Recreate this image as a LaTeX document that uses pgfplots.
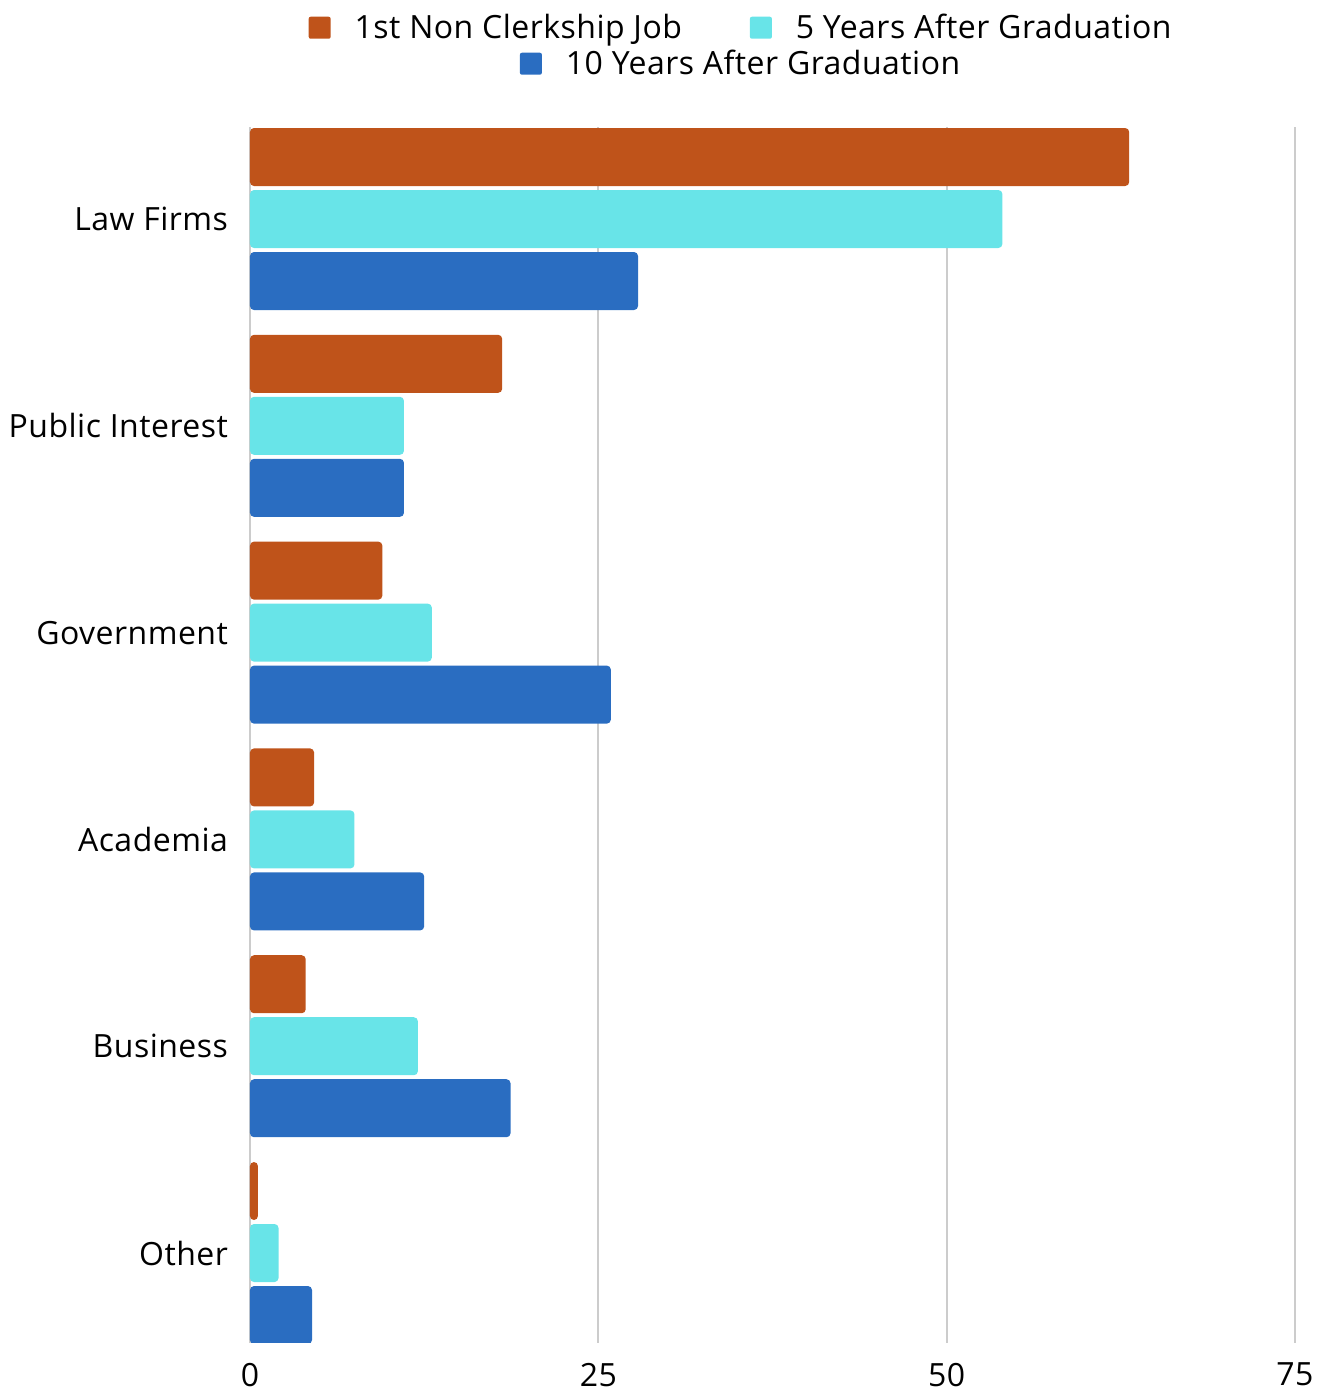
\documentclass[border=0pt]{standalone}
\usepackage{pgfplots}
\pgfplotsset{compat=1.18}
\usepackage{fontspec}
\setmainfont{Open Sans}[LetterSpace=1.5]
\definecolor{cOrange}{RGB}{191,83,26}
\definecolor{cCyan}{RGB}{104,228,232}
\definecolor{cBlue}{RGB}{42,109,193}
\definecolor{cGrid}{RGB}{204,204,204}
\newcommand{\lfont}{\fontsize{16}{19}\selectfont}
\pgfplotsset{
  sqlegend/.style={legend image code/.code={
      \fill[##1, draw=none, rounded corners=1pt] (0pt,0pt) rectangle (11pt,11pt);
      \path[draw=none, fill=none] (0pt,0pt) rectangle (23pt,11pt);
  }},
}
\begin{document}
\begin{tikzpicture}
\path[use as bounding box] (-125pt,-25pt) rectangle (536pt,671.5pt);
\begin{axis}[
  at={(0,0)}, anchor=south west,
  scale only axis, width=522.5pt, height=608pt,
  xmin=0, xmax=75, ymin=-0.435, ymax=5.445,
  xtick={0,25,50,75}, ytick={0,1,2,3,4,5},
  yticklabels={Other,Business,Academia,Government,Public Interest,Law Firms},
  major tick length=0pt,
  xmajorgrids, grid style={cGrid, line width=1pt},
  axis line style={draw=none},
  /pgf/number format/assume math mode=true,
  tick label style={font=\lfont, text=black},
  xticklabel style={yshift=-6.5pt},
  yticklabel style={xshift=-7.5pt},
  xbar, bar width=29pt,
  sqlegend,
  legend columns=2,
  legend style={draw=none, fill=none, font=\lfont, at={(0.469,1.0814)}, anchor=center,
    nodes={inner sep=0pt, anchor=base west},
    /tikz/column 2/.style={column sep=34pt}},
]
\addplot[fill=cOrange, draw=none, rounded corners=2pt, bar shift=31pt] coordinates {
 (63.1,5) (18.1,4) (9.5,3) (4.6,2) (4.0,1) (0.57,0)};
\addplot[fill=cCyan, draw=none, rounded corners=2pt, bar shift=0pt] coordinates {
 (54.0,5) (11.05,4) (13.05,3) (7.5,2) (12.05,1) (2.05,0)};
\addplot[fill=cBlue, draw=none, rounded corners=2pt, bar shift=-31pt] coordinates {
 (27.85,5) (11.05,4) (25.9,3) (12.5,2) (18.7,1) (4.45,0)};
\legend{1st Non Clerkship Job, 5 Years After Graduation}
\end{axis}
\begin{axis}[
  at={(0,0)}, anchor=south west,
  scale only axis, width=522.5pt, height=608pt,
  xmin=0, xmax=75, ymin=-0.435, ymax=5.445,
  hide axis, sqlegend,
  legend style={draw=none, fill=none, font=\lfont, at={(0.469,1.0518)}, anchor=center,
    nodes={inner sep=0pt, anchor=base west}},
]
\addlegendimage{fill=cBlue, draw=none}
\addlegendentry{10 Years After Graduation}
\end{axis}
\end{tikzpicture}
\end{document}
